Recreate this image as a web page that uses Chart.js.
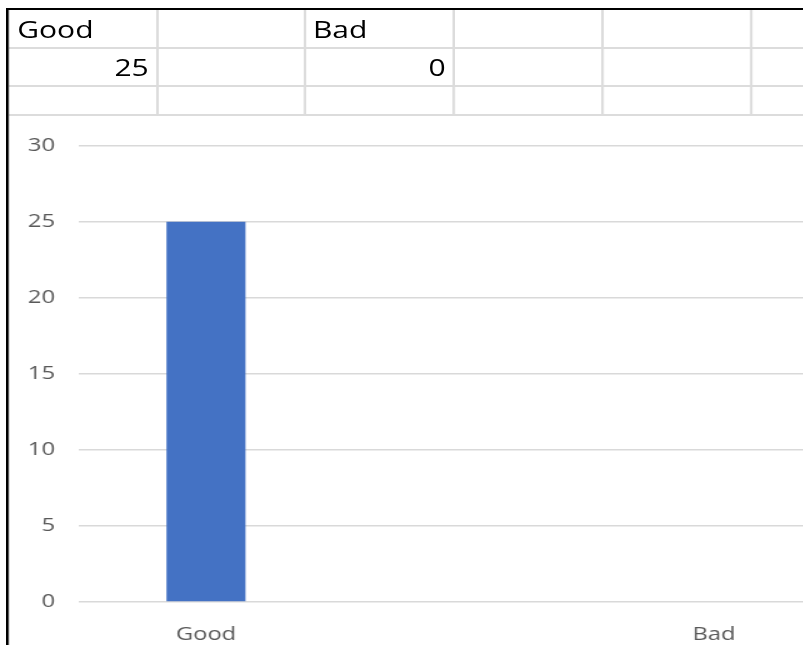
<!DOCTYPE html>
<html>
<head>
<meta charset="utf-8">
<script src="https://cdn.jsdelivr.net/npm/chart.js@4.4.0/dist/chart.umd.min.js"></script>
<style>
    html, body { margin: 0; padding: 0; background: #fff; overflow: hidden; width: 803px; height: 645px; }
    /* the reference screenshot is stretched sideways, so the whole sheet is drawn narrow and scaled */
    #wrap { position: absolute; left: 0; top: 0; width: 680px; height: 645px; transform: scaleX(1.25); transform-origin: 0 0; }
    .cell { position: absolute; box-sizing: border-box; border-right: 2px solid #dcdcdc; border-bottom: 2.5px solid #dcdcdc;
            font-family: 'Open Sans', sans-serif; font-size: 24px; color: #000; white-space: nowrap; overflow: hidden;
            padding: 0 5.6px 0 6.4px; display: flex; align-items: center; }
    .cell.num { justify-content: flex-end; }
    #chartBox { position: absolute; left: 0; top: 115px; width: 676px; height: 530px; }
    #frame { position: absolute; left: 5.4px; top: 8px; width: 700px; height: 660px; border-left: 2px solid #000; border-top: 2px solid #000; pointer-events: none; }
</style>
</head>
<body>
<div id="wrap">
    <div id="sheet"></div>
    <div id="chartBox"><canvas id="barChart"></canvas></div>
    <div id="frame"></div>
</div>
<script>
// Data
const categories = ['Good', '', 'Bad'];
const values = [25, null, 0];
const yTicks = [0, 5, 10, 15, 20, 25, 30];

// Spreadsheet cells above the chart (labels in row 1, numbers in row 2)
const colEdges = [7.4, 125.6, 244, 363.2, 481.6, 600.8, 720];
const rowEdges = [10, 48, 86, 115];

const sheet = document.getElementById('sheet');
for (let r = 0; r < rowEdges.length - 1; r++) {
    for (let c = 0; c < colEdges.length - 1; c++) {
        const cell = document.createElement('div');
        cell.className = 'cell';
        cell.style.left = colEdges[c] + 'px';
        cell.style.top = rowEdges[r] + 'px';
        cell.style.width = (colEdges[c + 1] - colEdges[c] + 1) + 'px';
        cell.style.height = (rowEdges[r + 1] - rowEdges[r] + 1) + 'px';
        if (c < categories.length) {
            if (r === 0) cell.textContent = categories[c];
            if (r === 1 && values[c] !== null) {
                cell.textContent = values[c];
                cell.classList.add('num');
            }
        }
        sheet.appendChild(cell);
    }
}

const ctx = document.getElementById('barChart').getContext('2d');

const barChart = new Chart(ctx, {
    type: 'bar',
    data: {
        labels: categories,
        datasets: [{
            label: 'Series1',
            data: values,
            backgroundColor: '#4472c4',
            borderWidth: 0,
            barPercentage: 0.311,
            categoryPercentage: 1
        }]
    },
    options: {
        responsive: true,
        maintainAspectRatio: false,
        animation: false,
        layout: {
            padding: { left: 0, right: 3.2, top: 28, bottom: 0 }
        },
        plugins: {
            legend: { display: false },
            tooltip: { enabled: false }
        },
        scales: {
            x: {
                grid: { display: false },
                border: { display: false },
                ticks: {
                    color: '#595959',
                    padding: 13,
                    font: { family: 'Open Sans', size: 19 }
                },
                afterFit: scale => { scale.height = 43; }
            },
            y: {
                min: 0,
                max: 30,
                afterBuildTicks: scale => { scale.ticks = yTicks.map(v => ({ value: v })); },
                grid: { color: '#d9d9d9', lineWidth: 1.6, drawTicks: false },
                border: { display: false },
                ticks: {
                    color: '#595959',
                    padding: 19.2,
                    font: { family: 'Open Sans', size: 19 }
                },
                afterFit: scale => { scale.width = 63.2; }
            }
        }
    }
});
</script>
</body>
</html>
